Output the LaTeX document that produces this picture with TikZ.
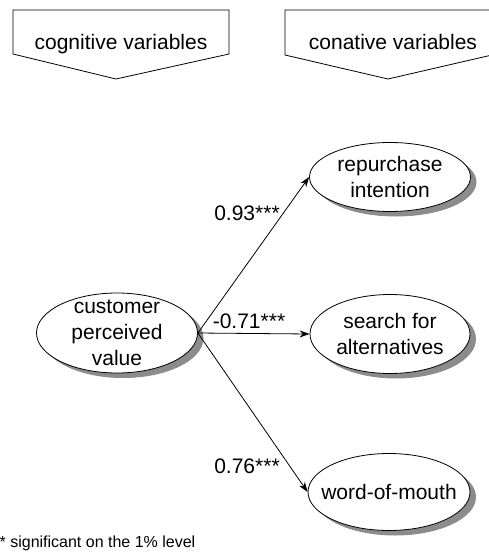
\documentclass[tikz,border=0pt]{standalone}
\usepackage{fontspec}
\setmainfont{Liberation Sans}
\usetikzlibrary{arrows.meta,shapes.geometric,shadows}
\tikzset{
   line/.style  = {-, line width=0.8pt, },
   arrow/.style = {-{Stealth[length=10pt,width=7pt]}, line width=0.8pt, },
   var/.style   = {ellipse, draw, fill=white, line width=0.8pt, align=center,
                   inner sep=-12pt,
                   font=\fontsize{21}{26}\selectfont,
                   drop shadow={shadow xshift=6pt, shadow yshift=-5pt,
                                fill=black!45, opacity=1}, },
   coef/.style  = {anchor=base, inner sep=0pt, font=\fontsize{21}{26}\selectfont, },
}

\begin{document}
\begin{tikzpicture}
      \useasboundingbox (0pt,0pt) rectangle (489pt,-552pt);

      % headings
      \draw[line] (13pt,-10pt) -- (229pt,-10pt) -- (229pt,-54pt)
                  -- (116pt,-79pt) -- (13pt,-54pt) -- cycle;
      \draw[line] (285pt,-10pt) -- (492pt,-10pt) -- (492pt,-55pt)
                  -- (388pt,-79pt) -- (285pt,-55pt) -- cycle;
      \node[coef] (cogn)  at (121pt,-49pt) {cognitive variables};
      \node[coef] (conat) at (393pt,-49pt) {conative variables};

      % variables
      \node[
         var,
         minimum width=161pt,
         minimum height=80pt,
      ] (cpv) at (117pt,-333pt) {customer\\perceived\\value};

      \node[
         var,
         minimum width=161pt,
         minimum height=69pt,
      ] (rep) at (390pt,-177pt) {repurchase\\intention};

      \node[
         var,
         minimum width=160pt,
         minimum height=79pt,
      ] (search) at (390pt,-334pt) {search for\\alternatives};

      \node[
         var,
         minimum width=162pt,
         minimum height=77pt,
      ] (wom) at (389pt,-492pt) {word-of-mouth};

      \draw[arrow] (cpv.east) -- (rep.west);
      \draw[arrow] (cpv.east) -- (search.west);
      \draw[arrow] (cpv.east) -- (wom.west);

      % path coefficients
      \node[coef] (c1) at (247pt,-220pt) {0.93***};
      \node[coef] (c2) at (249pt,-328pt) {-0.71***};
      \node[coef] (c3) at (247pt,-473pt) {0.76***};

      \node[
         anchor=base west,
         inner sep=0pt,
         font=\fontsize{16}{19}\selectfont,
      ] (note) at (-13pt,-547pt) {*** significant on the 1\% level};
\end{tikzpicture}
\end{document}
